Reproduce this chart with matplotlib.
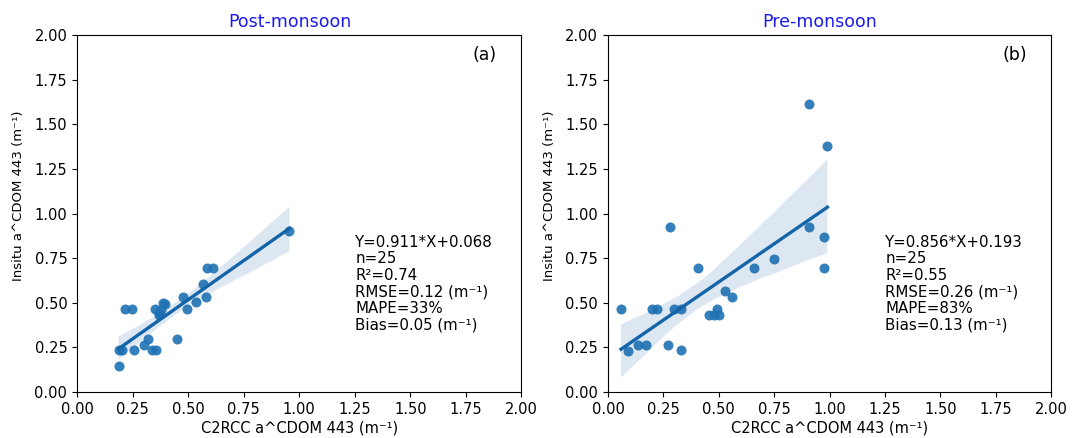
import matplotlib
matplotlib.use("Agg")
import matplotlib.pyplot as plt
import seaborn as sns
import numpy as np

# Post-monsoon match-ups: C2RCC-derived vs in-situ aCDOM(443), m^-1
post_c2rcc = [0.187, 0.202, 0.187, 0.214, 0.248, 0.255, 0.303, 0.318, 0.338, 0.357,
              0.353, 0.368, 0.388, 0.398, 0.376, 0.448, 0.478, 0.496, 0.537, 0.567,
              0.579, 0.584, 0.610, 0.956, 0.370]
post_insitu = [0.235, 0.235, 0.147, 0.467, 0.467, 0.235, 0.263, 0.297, 0.235, 0.235,
               0.467, 0.431, 0.497, 0.493, 0.459, 0.295, 0.534, 0.467, 0.503, 0.605,
               0.534, 0.693, 0.693, 0.904, 0.440]

# Pre-monsoon match-ups
pre_c2rcc = [0.059, 0.089, 0.137, 0.172, 0.197, 0.220, 0.270, 0.280, 0.298, 0.330,
             0.330, 0.408, 0.457, 0.479, 0.491, 0.501, 0.528, 0.558, 0.659, 0.749,
             0.909, 0.909, 0.977, 0.977, 0.990]
pre_insitu = [0.465, 0.231, 0.263, 0.263, 0.465, 0.465, 0.263, 0.923, 0.465, 0.465,
              0.235, 0.693, 0.431, 0.431, 0.465, 0.431, 0.567, 0.534, 0.693, 0.743,
              1.612, 0.923, 0.867, 0.693, 1.380]

titles = ["Post-monsoon", "Pre-monsoon"]
panel_tags = ["(a)", "(b)"]
stats_text = [
    "Y=0.911*X+0.068\nn=25\nR\u00b2=0.74\nRMSE=0.12 (m\u207b\u00b9)\nMAPE=33%\nBias=0.05 (m\u207b\u00b9)",
    "Y=0.856*X+0.193\nn=25\nR\u00b2=0.55\nRMSE=0.26 (m\u207b\u00b9)\nMAPE=83%\nBias=0.13 (m\u207b\u00b9)",
]
ticks = [0.00, 0.25, 0.50, 0.75, 1.00, 1.25, 1.50, 1.75, 2.00]

plt.rcParams["font.family"] = ["DejaVu Sans"]

fig = plt.figure(figsize=(10.76, 4.38), dpi=100)
ax_a = fig.add_axes([0.0716, 0.105, 0.413, 0.815])
ax_b = fig.add_axes([0.565, 0.105, 0.412, 0.815])

datasets = [(post_c2rcc, post_insitu), (pre_c2rcc, pre_insitu)]
for ax, (xv, yv), title, tag, txt in zip([ax_a, ax_b], datasets, titles, panel_tags, stats_text):
    sns.regplot(x=np.array(xv), y=np.array(yv), ax=ax, color="#1f72b4",
                scatter_kws={"s": 52, "alpha": 0.9, "linewidths": 0},
                line_kws={"linewidth": 2.4, "color": "#1464a8"}, seed=0)
    ax.set_xlim(0, 2)
    ax.set_ylim(0, 2)
    ax.set_xticks(ticks)
    ax.set_yticks(ticks)
    ax.set_xticklabels([f"{t:.2f}" for t in ticks], fontsize=10.5)
    ax.set_yticklabels([f"{t:.2f}" for t in ticks], fontsize=10.5)
    ax.set_xlabel("C2RCC a^CDOM 443 (m\u207b\u00b9)", fontsize=10.5, labelpad=3)
    ax.set_ylabel("Insitu a^CDOM 443 (m\u207b\u00b9)", fontsize=9.5)
    ax.yaxis.set_label_coords(-0.118, 0.55)
    ax.set_title(title, color="#1a1aee", fontsize=12.5, x=0.478)
    ax.text(0.945, 0.945, tag, transform=ax.transAxes, ha="right", va="center", fontsize=12.5)
    ax.text(1.252, 0.88, txt, ha="left", va="top", fontsize=10.8, linespacing=1.12)

fig.savefig("out.png", dpi=100)
